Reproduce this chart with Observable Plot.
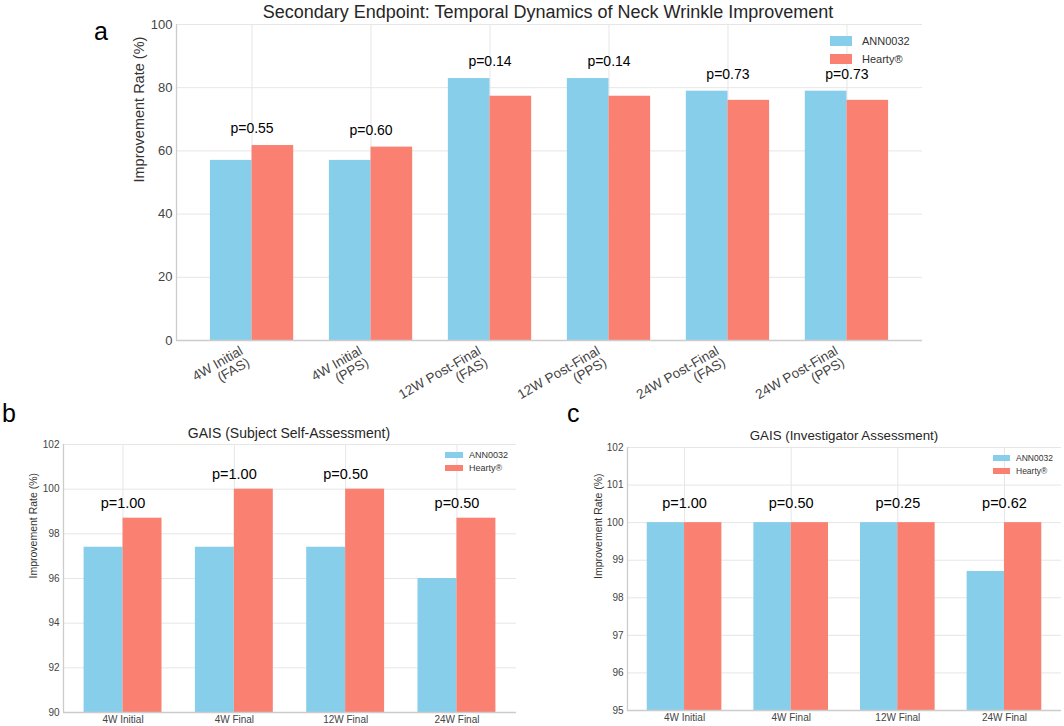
<!DOCTYPE html>
<html><head><meta charset="utf-8">
<script src="https://cdn.jsdelivr.net/npm/d3@7"></script>
<script src="https://cdn.jsdelivr.net/npm/@observablehq/plot@0.6"></script>
<style>
body{margin:0;background:#fff;font-family:"Liberation Sans",Arial,sans-serif;}
#root{position:relative;width:1064px;height:726px;overflow:hidden;background:#fff;}
.abs{position:absolute;white-space:nowrap;line-height:1;color:#262626;}
.lg{position:absolute;display:flex;align-items:center;white-space:nowrap;color:#333;}
.lg span.sw{display:inline-block;}
svg{overflow:visible;}
</style></head><body><div id="root"></div>
<script>
// ---- shared series ----
const seriesNames = ["ANN0032", "Hearty®"];
const seriesColors = ["#87CEEB", "#FA8072"];

// ---- panel a ----
const titleA = "Secondary Endpoint: Temporal Dynamics of Neck Wrinkle Improvement";
const catsA = ["4W Initial\n(FAS)", "4W Initial\n(PPS)", "12W Post-Final\n(FAS)", "12W Post-Final\n(PPS)", "24W Post-Final\n(FAS)", "24W Post-Final\n(PPS)"];
const annA = [57.0, 57.0, 82.9, 82.9, 78.9, 78.9];
const heartyA = [61.7, 61.2, 77.3, 77.3, 76.0, 76.0];
const pA = ["p=0.55", "p=0.60", "p=0.14", "p=0.14", "p=0.73", "p=0.73"];
const ticksA = [0, 20, 40, 60, 80, 100];

// ---- panel b ----
const titleB = "GAIS (Subject Self-Assessment)";
const catsB = ["4W Initial", "4W Final", "12W Final", "24W Final"];
const annB = [97.4, 97.4, 97.4, 96.0];
const heartyB = [98.7, 100, 100, 98.7];
const pB = ["p=1.00", "p=1.00", "p=0.50", "p=0.50"];
const ticksB = [90, 92, 94, 96, 98, 100, 102];

// ---- panel c ----
const titleC = "GAIS (Investigator Assessment)";
const catsC = ["4W Initial", "4W Final", "12W Final", "24W Final"];
const annC = [100, 100, 100, 98.7];
const heartyC = [100, 100, 100, 100];
const pC = ["p=1.00", "p=0.50", "p=0.25", "p=0.62"];
const ticksC = [95, 96, 97, 98, 99, 100, 101, 102];

const yLabel = "Improvement Rate (%)";
const FONT = "'Liberation Sans', Arial, sans-serif";
const root = document.getElementById("root");

function panel(o) {
  const W = 0.35;
  const n = o.cats.length;
  const idx = d3.range(n);
  const rowsA = idx.map(i => ({i, v: o.ann[i]}));
  const rowsH = idx.map(i => ({i, v: o.hearty[i]}));
  const plabels = idx.map(i => ({i, y: Math.max(o.ann[i], o.hearty[i]) + o.pOffset, t: o.pvals[i]}));
  const pad = 0.05 * (n - 1 + 2 * W);
  const xdom = [-W - pad, n - 1 + W + pad];
  const ydom = [o.ticks[0], o.ticks[o.ticks.length - 1]];
  const grid = "#e6e6e6";
  const svg = Plot.plot({
    width: o.width, height: o.height,
    marginLeft: o.ml, marginRight: o.mr, marginTop: o.mt, marginBottom: o.mb,
    x: {domain: xdom, axis: null},
    y: {domain: ydom, axis: null},
    style: {fontFamily: FONT, background: "transparent", overflow: "visible"},
    marks: [
      Plot.gridY(o.ticks, {stroke: grid, strokeOpacity: 1, strokeWidth: 1}),
      Plot.gridX(idx, {stroke: grid, strokeOpacity: 1, strokeWidth: 1}),
      Plot.rectY(rowsA, {x1: d => d.i - W, x2: d => d.i, y: "v", fill: seriesColors[0], clip: true}),
      Plot.rectY(rowsH, {x1: d => d.i, x2: d => d.i + W, y: "v", fill: seriesColors[1], clip: true}),
      Plot.ruleX([xdom[0]], {stroke: "#cccccc", strokeWidth: 1.3}),
      Plot.ruleY([ydom[0]], {stroke: "#cccccc", strokeWidth: 1.3}),
      Plot.axisY(o.ticks, {tickSize: 0, tickPadding: o.ytp, fontSize: o.tickFs, color: "#444", label: null}),
      Plot.axisX(idx, Object.assign({tickSize: 0, tickFormat: i => o.cats[i], fontSize: o.xFs, color: "#444", label: null}, o.xAxisOpts)),
      Plot.text(plabels, {x: "i", y: "y", text: "t", lineAnchor: "bottom", dy: o.pDy, fontSize: o.pFs, fill: "#000"}),
      Plot.text([yLabel], {frameAnchor: "left", rotate: -90, dx: o.ylDx, text: d => d, fontSize: o.ylFs, fill: "#333"})
    ]
  });
  svg.style.position = "absolute";
  svg.style.left = o.left + "px";
  svg.style.top = o.top + "px";
  root.appendChild(svg);
}

function addText(txt, left, top, fs, center, extra) {
  const d = document.createElement("div");
  d.className = "abs";
  d.textContent = txt;
  d.style.left = left + "px";
  d.style.top = top + "px";
  d.style.fontSize = fs + "px";
  if (center) d.style.transform = "translateX(-50%)";
  if (extra) Object.assign(d.style, extra);
  root.appendChild(d);
}

function legend(x, yc, rowGap, sw, sh, gap, fs) {
  seriesNames.forEach((name, k) => {
    const d = document.createElement("div");
    d.className = "lg";
    d.style.left = x + "px";
    d.style.top = (yc + k * rowGap - 8) + "px";
    d.style.height = "16px";
    d.style.fontSize = fs + "px";
    const s = document.createElement("span");
    s.className = "sw";
    s.style.width = sw + "px";
    s.style.height = sh + "px";
    s.style.background = seriesColors[k];
    s.style.marginRight = gap + "px";
    d.appendChild(s);
    d.appendChild(document.createTextNode(name));
    root.appendChild(d);
  });
}

// panel a
panel({cats: catsA, ann: annA, hearty: heartyA, pvals: pA, ticks: ticksA,
  left: 0, top: 0, width: 1064, height: 400, ml: 176, mr: 142, mt: 24, mb: 60,
  ytp: 4, tickFs: 13, xFs: 13.5, xAxisOpts: {tickRotate: -30, tickPadding: 4, dx: -7, dy: 11},
  pOffset: 3, pDy: -3, pFs: 14, ylDx: -37, ylFs: 14.5});
addText(titleA, 548, 3, 18, true, {color: "#262626"});
addText("a", 94, 19, 25, false, {color: "#000"});
legend(830, 41, 18, 22, 10, 10, 11);

// panel b
panel({cats: catsB, ann: annB, hearty: heartyB, pvals: pB, ticks: ticksB,
  left: 0, top: 420, width: 540, height: 306, ml: 63, mr: 24, mt: 24, mb: 14,
  ytp: 4, tickFs: 10, xFs: 10, xAxisOpts: {tickPadding: 3},
  pOffset: 0.3, pDy: -3.5, pFs: 14.5, ylDx: -30, ylFs: 10.5});
addText(titleB, 289, 426, 14, true);
addText("b", 2, 401, 25, false, {color: "#000"});
legend(445, 455, 13, 18, 6, 6, 9);

// panel c
panel({cats: catsC, ann: annC, hearty: heartyC, pvals: pC, ticks: ticksC,
  left: 540, top: 420, width: 524, height: 306, ml: 87, mr: 3, mt: 27, mb: 16,
  ytp: 4, tickFs: 10, xFs: 10, xAxisOpts: {tickPadding: 3},
  pOffset: 0.3, pDy: -3, pFs: 14.5, ylDx: -29, ylFs: 10.5});
addText(titleC, 844, 429, 13.3, true);
addText("c", 567, 401, 25, false, {color: "#000"});
legend(993, 458, 13, 17, 6, 6, 8.5);
</script>
</body></html>
